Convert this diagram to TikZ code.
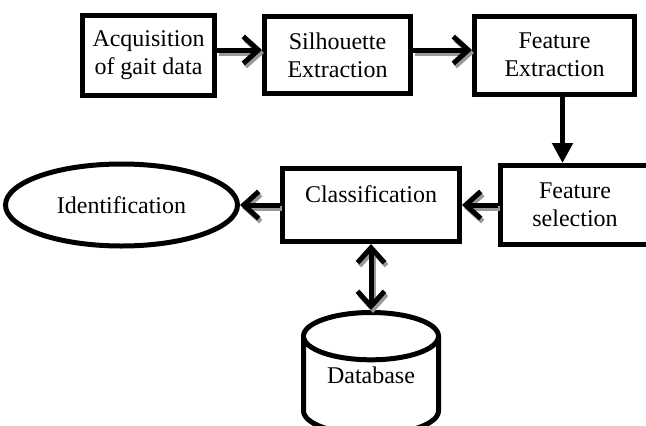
\documentclass[tikz,border=0pt]{standalone}
\usepackage{fontspec}
\setmainfont{Liberation Serif}
\usetikzlibrary{positioning, shapes.geometric, arrows.meta}

\begin{document}
\begin{tikzpicture}[x=1pt, y=-1pt, line width=5pt,
        font = \fontsize{24}{28}\selectfont,
       stage/.style = {draw, rectangle, align=center, inner sep=2pt},
        barb/.tip  = {Straight Barb[length=15pt, width=27pt]},
        flow/.style = {-barb, line join=round,
                       preaction={draw=black!40,
                                  transform canvas={shift={(2pt,-3pt)}}}},
        feed/.style = {-{Triangle[length=20pt, width=20pt]}}
                        ]
\useasboundingbox (0,0) rectangle (646,426);
% Top row of stages
\node[stage, minimum width=132pt, minimum height=80pt] (acq) at (148.5,55)
      {Acquisition\\of gait data};
\node[stage, minimum width=146pt, minimum height=77pt,
      right=45pt of acq] (sil)  {Silhouette\\Extraction};
\node[stage, minimum width=160pt, minimum height=78pt,
      right=59pt of sil] (fext) {Feature\\Extraction};
% Second row
\node[stage, minimum width=149pt, minimum height=79pt] (fsel) at (575,205)
      {Feature\\selection};
\node[stage, minimum width=177pt, minimum height=73pt, text depth=22pt,
      left=36pt of fsel] (class) {Classification};
\node[ellipse, draw, minimum width=232pt, minimum height=82pt,
      left=40pt of class] (ident) {Identification};
% Database
\node[cylinder, draw, shape border rotate=90, aspect=0.5,
      minimum width=135pt, minimum height=122pt, text depth=30pt,
      below=66pt of class] (db) {Database};
% Connections
\draw[flow] ([yshift=5pt]acq.east) -- ([yshift=5pt]sil.west);
\draw[flow] ([yshift=5pt]sil.east) -- ([yshift=5pt]sil.east -| fext.west);
\draw[feed] ([xshift=8pt]fext.south) -- ([xshift=8pt]fext.south |- fsel.north);
\draw[flow] (fsel.west) -- (class.east);
\draw[flow] (class.west) -- (ident.east);
\draw[flow, barb-barb] (db.north) -- (db.north |- class.south);
\end{tikzpicture}
\end{document}
